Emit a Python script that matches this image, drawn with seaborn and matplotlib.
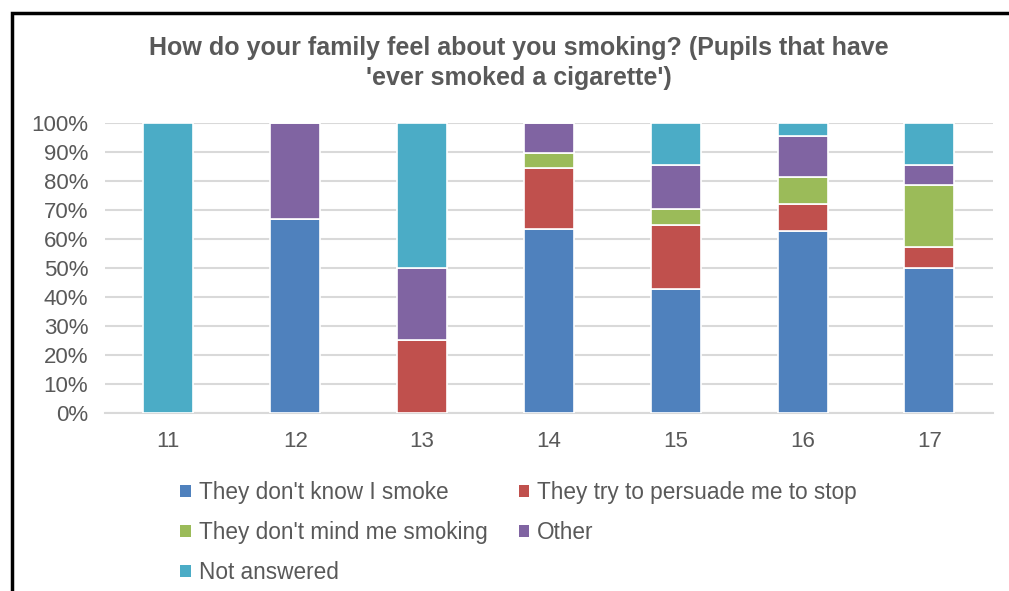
import seaborn as sns
import pandas as pd
import numpy as np
import matplotlib.pyplot as plt
from matplotlib.patches import Rectangle, Patch

ages = ["11", "12", "13", "14", "15", "16", "17"]
dont_know = [0, 66.7, 0, 63.2, 42.8, 62.8, 50.0]
persuade = [0, 0, 25.0, 21.1, 22.1, 9.3, 7.1]
dont_mind = [0, 0, 0, 5.3, 5.5, 9.3, 21.4]
other = [0, 33.3, 25.0, 10.5, 15.1, 14.0, 7.1]
not_answered = [100.0, 0, 50.0, 0, 14.5, 4.6, 14.3]

series = [
    ("They don't know I smoke", dont_know, "#4F81BD"),
    ("They try to persuade me to stop", persuade, "#C0504D"),
    ("They don't mind me smoking", dont_mind, "#9BBB59"),
    ("Other", other, "#8064A2"),
    ("Not answered", not_answered, "#4BACC6"),
]

sns.set_theme(style="white")
plt.rcParams['font.family'] = ['Liberation Sans', 'DejaVu Sans']

fig = plt.figure(figsize=(10.09, 5.91), dpi=100)
ax = fig.add_axes([0.104, 0.302, 0.880, 0.490])

bottom = np.zeros(len(ages))
for name, vals, col in series:
    df = pd.DataFrame({"age": ages, "pct": vals})
    sns.barplot(data=df, x="age", y="pct", color=col, saturation=1, bottom=bottom, width=0.394,
                edgecolor="white", linewidth=1.2, ax=ax, zorder=3)
    bottom = bottom + np.array(vals)

ax.set_xlim(-0.5, 6.5)
ax.set_ylim(0, 100)
ax.set_yticks(np.arange(0, 101, 10))
ax.set_yticklabels([f"{v}%" for v in range(0, 101, 10)])
ax.yaxis.grid(True, color="#D9D9D9", linewidth=1.5, zorder=0)
ax.set_axisbelow(True)
for s in ["top", "right", "left"]:
    ax.spines[s].set_visible(False)
ax.spines["bottom"].set_color("#D9D9D9")
ax.spines["bottom"].set_linewidth(1.5)
ax.tick_params(axis="both", colors="#595959", labelsize=16, length=0)
ax.tick_params(axis="x", pad=13)
ax.tick_params(axis="y", pad=12)
ax.set_xlabel("")
ax.set_ylabel("")

fig.text(0.514, 0.893, "How do your family feel about you smoking? (Pupils that have\n'ever smoked a cigarette')",
         ha="center", va="center", fontsize=18, fontweight="bold", color="#595959", linespacing=1.3)

handles = [Patch(facecolor=c, edgecolor="none", label=n) for n, _, c in series]
order = [0, 2, 4, 1, 3]
leg = fig.legend([handles[i] for i in order], [series[i][0] for i in order],
                 ncol=2, loc="upper left", bbox_to_anchor=(0.1676, 0.205), frameon=False,
                 fontsize=16.3, handlelength=0.45, handleheight=0.45, handletextpad=0.35,
                 columnspacing=1.4, labelspacing=0.74, labelcolor="#595959", borderpad=0)

fig.add_artist(Rectangle((0.012, -0.1), 1.2, 1.078, transform=fig.transFigure,
                         fill=False, edgecolor="black", linewidth=2.5))

fig.savefig("out.png", dpi=100)
